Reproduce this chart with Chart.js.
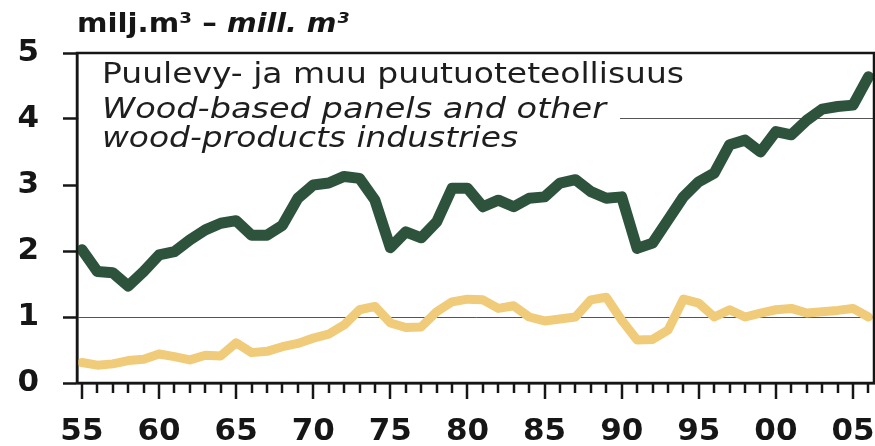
<!DOCTYPE html>
<html><head><meta charset="utf-8">
<script src="https://cdn.jsdelivr.net/npm/chart.js@4.4.1/dist/chart.umd.min.js"></script>
<style>html,body{margin:0;padding:0;background:#fff}#wrap{width:875px;height:446px;position:relative}</style>
</head><body><div id="wrap"><canvas id="c"></canvas></div>
<script>
const years = [1955,1956,1957,1958,1959,1960,1961,1962,1963,1964,1965,1966,1967,1968,1969,1970,1971,1972,1973,1974,1975,1976,1977,1978,1979,1980,1981,1982,1983,1984,1985,1986,1987,1988,1989,1990,1991,1992,1993,1994,1995,1996,1997,1998,1999,2000,2001,2002,2003,2004,2005,2006];
const panelsIndustry = [2.02,1.69,1.67,1.47,1.69,1.94,1.99,2.17,2.32,2.42,2.46,2.24,2.24,2.39,2.80,3.00,3.03,3.13,3.10,2.77,2.05,2.29,2.20,2.44,2.95,2.95,2.67,2.77,2.67,2.80,2.82,3.03,3.08,2.90,2.80,2.82,2.04,2.12,2.47,2.82,3.05,3.18,3.61,3.68,3.50,3.81,3.76,3.98,4.15,4.19,4.21,4.64];
const otherSeries = [0.31,0.27,0.29,0.34,0.36,0.44,0.40,0.35,0.42,0.41,0.61,0.46,0.48,0.55,0.60,0.68,0.74,0.88,1.11,1.16,0.91,0.84,0.85,1.08,1.23,1.27,1.26,1.13,1.17,1.00,0.94,0.97,1.00,1.26,1.30,0.95,0.65,0.66,0.80,1.27,1.21,1.00,1.11,1.00,1.06,1.11,1.13,1.06,1.08,1.10,1.13,1.00];
const yTicks = [0,1,2,3,4,5];
const gridAt = [1,4];
const xTickLabels = {1955:'55',1960:'60',1965:'65',1970:'70',1975:'75',1980:'80',1985:'85',1990:'90',1995:'95',2000:'00',2005:'05'};
const titleParts = ['milj.m\u00b3 \u2013 ', 'mill. m\u00b3'];
const noteLines = ['Puulevy- ja muu puutuoteteollisuus','Wood-based panels and other','wood-products industries'];

const FONT = "'DejaVu Sans', sans-serif";

function drawFitted(ctx, text, x, y, font, target) {
  ctx.font = font;
  const w = ctx.measureText(text).width;
  const sx = target / w;
  ctx.save();
  ctx.translate(x, y);
  ctx.scale(sx, 1);
  ctx.fillText(text, 0, 0);
  ctx.restore();
  return w * sx;
}

const decor = {
  id: 'decor',
  beforeDatasetsDraw(chart) {
    const {ctx, chartArea: a} = chart;
    ctx.save();
    ctx.fillStyle = '#fff';
    ctx.fillRect(a.left + 2, a.top + 3, 541, 100);
    ctx.restore();
  },
  afterDraw(chart) {
    const {ctx, chartArea: a} = chart;
    const xs = chart.scales.x;
    ctx.save();
    ctx.strokeStyle = '#161616';
    ctx.lineWidth = 2.5;
    ctx.strokeRect(a.left, a.top, a.right - a.left, a.bottom - a.top);
    years.forEach(yr => {
      const px = Math.round(xs.getPixelForValue(yr));
      const len = (yr % 5 === 0) ? 16 : 10;
      ctx.beginPath();
      ctx.moveTo(px, a.bottom);
      ctx.lineTo(px, a.bottom + len);
      ctx.stroke();
    });
    ctx.fillStyle = '#161616';
    ctx.textBaseline = 'alphabetic';
    ctx.textAlign = 'left';
    const w1 = drawFitted(ctx, titleParts[0], a.left, 32, "bold 26px " + FONT, 150);
    drawFitted(ctx, titleParts[1], a.left + w1, 32, "italic bold 26px " + FONT, 122);
    ctx.fillStyle = '#1e1e1e';
    drawFitted(ctx, noteLines[0], a.left + 25, 83, "28px " + FONT, 582);
    drawFitted(ctx, noteLines[1], a.left + 25, 118, "italic 28px " + FONT, 504);
    drawFitted(ctx, noteLines[2], a.left + 25, 147, "italic 28px " + FONT, 416);
    ctx.restore();
  }
};

new Chart(document.getElementById('c'), {
  type: 'line',
  data: {
    datasets: [
      {
        label: 'Puulevy- ja muu puutuoteteollisuus',
        data: years.map((y, i) => ({x: y, y: panelsIndustry[i]})),
        borderColor: '#2e533d',
        borderWidth: 11,
        pointRadius: 0,
        tension: 0,
        borderJoinStyle: 'round',
        borderCapStyle: 'round'
      },
      {
        label: 'Other',
        data: years.map((y, i) => ({x: y, y: otherSeries[i]})),
        borderColor: '#f0cb79',
        borderWidth: 9,
        pointRadius: 0,
        tension: 0,
        borderJoinStyle: 'round',
        borderCapStyle: 'round'
      }
    ]
  },
  options: {
    responsive: true,
    maintainAspectRatio: false,
    animation: false,
    layout: {padding: {top: 53, right: 1, left: 0, bottom: 0}},
    plugins: {legend: {display: false}, tooltip: {enabled: false}},
    scales: {
      x: {
        type: 'linear',
        min: 1954.68,
        max: 2006.36,
        afterFit(s) { s.height = 63; s.paddingLeft = 0; s.paddingRight = 0; },
        ticks: {
          stepSize: 5,
          includeBounds: false,
          autoSkip: false,
          maxRotation: 0,
          padding: 30,
          color: '#161616',
          font: {family: FONT, weight: 'bold', size: 31},
          callback: v => xTickLabels[v] || ''
        },
        grid: {display: false, drawTicks: false},
        border: {display: true, color: '#161616', width: 2.5}
      },
      y: {
        min: 0,
        max: 5,
        afterFit(s) { s.width = 77; s.paddingTop = 0; s.paddingBottom = 0; },
        afterBuildTicks(s) { s.ticks = yTicks.map(v => ({value: v})); },
        ticks: {
          stepSize: 1,
          padding: 24,
          color: '#161616',
          font: {family: FONT, weight: 'bold', size: 31},
          callback: v => String(v)
        },
        grid: {
          drawOnChartArea: true,
          color: c => gridAt.includes(c.tick && c.tick.value) ? '#555' : 'rgba(0,0,0,0)',
          lineWidth: 1,
          tickColor: '#161616',
          tickLength: 14,
          tickWidth: 2.5
        },
        border: {display: true, color: '#161616', width: 2.5}
      }
    }
  },
  plugins: [decor]
});
</script>
</body></html>
